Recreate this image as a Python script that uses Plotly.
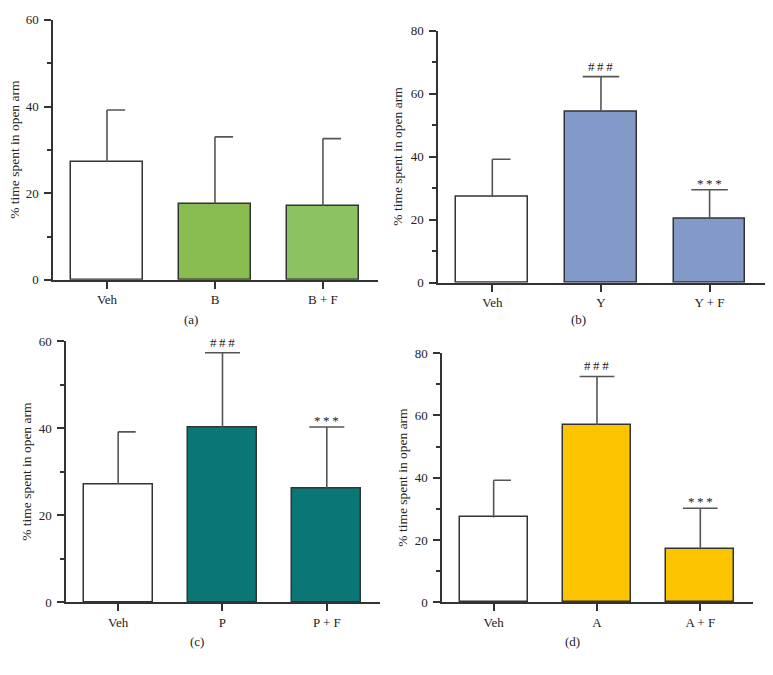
import plotly.graph_objects as go

# ---------------- data ----------------
cats_a = ["Veh", "B", "B + F"]
mean_a = [27.2, 17.6, 17.1]
err_a = [12.0, 15.4, 15.5]
sig_a = ["", "", ""]

cats_b = ["Veh", "Y", "Y + F"]
mean_b = [27.2, 54.4, 20.3]
err_b = [12.0, 11.0, 9.2]
sig_b = ["", "###", "***"]

cats_c = ["Veh", "P", "P + F"]
mean_c = [27.2, 40.2, 26.3]
err_c = [12.0, 17.2, 14.0]
sig_c = ["", "###", "***"]

cats_d = ["Veh", "A", "A + F"]
mean_d = [27.2, 56.9, 17.0]
err_d = [12.0, 15.6, 13.2]
sig_d = ["", "###", "***"]

ymax_list = [60, 80, 60, 80]
panel_labels = ["(a)", "(b)", "(c)", "(d)"]

# ---------------- style ----------------
FONT = "Liberation Serif"
TXT = "#222222"
OUT = "#333333"
colors = [
    ["white", "#88bb50", "#8dc262"],
    ["white", "#8399c8", "#8399c8"],
    ["white", "#0b7676", "#0b7676"],
    ["white", "#fcc400", "#fcc400"],
]

OFF = 8  # page body margin
W, H = 773 - 2 * OFF, 675 - 2 * OFF
boxes = [
    (53, 378, 13, 279),
    (438, 765, 24, 282),
    (66, 380, 342, 609),
    (442, 753, 354, 609),
]
title_x = [15, 398, 27, 403]
lab_pos = [(191, 320), (578, 320), (197, 649), (572, 649)]

panels = [
    (cats_a, mean_a, err_a, sig_a),
    (cats_b, mean_b, err_b, sig_b),
    (cats_c, mean_c, err_c, sig_c),
    (cats_d, mean_d, err_d, sig_d),
]


def fx(px):
    return (px - OFF) / W


def fy(py):
    return 1 - (py - OFF) / H


CAP = 0.168
fig = go.Figure()
annotations = []
layout = {}

for k, (cats, means, errs, sigs) in enumerate(panels):
    n = k + 1
    xa = "x" if n == 1 else f"x{n}"
    ya = "y" if n == 1 else f"y{n}"
    xs = list(range(len(cats)))
    fig.add_trace(go.Bar(
        x=xs, y=means, width=0.66,
        marker=dict(color=colors[k], line=dict(color=OUT, width=1.5)),
        error_y=dict(type="data", symmetric=False, array=errs,
                     arrayminus=[0] * len(errs), width=0,
                     thickness=1.6, color="#555555"),
        xaxis=xa, yaxis=ya, showlegend=False, hoverinfo="skip",
    ))
    cx, cy = [], []
    for i, (m, e, s) in enumerate(zip(means, errs, sigs)):
        left = i - CAP if s else i
        cx += [left, i + CAP, None]
        cy += [m + e, m + e, None]
    fig.add_trace(go.Scatter(
        x=cx, y=cy, mode="lines", line=dict(color="#555555", width=1.6),
        xaxis=xa, yaxis=ya, showlegend=False, hoverinfo="skip",
    ))
    for i, (m, e, s) in enumerate(zip(means, errs, sigs)):
        if s:
            txt = "\u2009".join(list(s))
            annotations.append(dict(
                x=i, y=m + e, xref=xa, yref=ya, text=txt, showarrow=False,
                yanchor="bottom", yshift=1 if s == "###" else -3,
                font=dict(family=FONT, size=13, color=TXT),
            ))

    l, r, t, b = boxes[k]
    ymax = ymax_list[k]
    layout["xaxis" if n == 1 else f"xaxis{n}"] = dict(
        domain=[fx(l), fx(r)], anchor=ya, range=[-0.5, 2.51],
        tickvals=xs, ticktext=cats, ticks="outside", ticklen=7,
        tickwidth=1.5, tickcolor=OUT, showline=True, linecolor=OUT,
        linewidth=1.5, showgrid=False, zeroline=False, fixedrange=True,
        tickfont=dict(family=FONT, size=13, color=TXT),
    )
    layout["yaxis" if n == 1 else f"yaxis{n}"] = dict(
        domain=[fy(b), fy(t)], anchor=xa, range=[0, ymax],
        tickvals=list(range(0, ymax + 1, 20)), ticks="outside", ticklen=7,
        tickwidth=1.5, tickcolor=OUT, showline=True, linecolor=OUT,
        linewidth=1.5, showgrid=False, zeroline=False, ticklabelstandoff=3,
        minor=dict(dtick=10, ticks="outside", ticklen=4, tickwidth=1.5,
                   tickcolor=OUT, showgrid=False),
        tickfont=dict(family=FONT, size=13, color=TXT),
    )
    annotations.append(dict(
        x=fx(title_x[k]), y=fy((t + b) / 2), xref="paper", yref="paper",
        text="% time spent in open arm", textangle=-90, showarrow=False,
        xanchor="center", yanchor="middle",
        font=dict(family=FONT, size=13.5, color=TXT),
    ))
    px_, py_ = lab_pos[k]
    annotations.append(dict(
        x=fx(px_), y=fy(py_), xref="paper", yref="paper",
        text=panel_labels[k], showarrow=False, xanchor="center",
        yanchor="middle", font=dict(family=FONT, size=13, color=TXT),
    ))

fig.update_layout(
    width=W, height=H, margin=dict(l=0, r=0, t=0, b=0),
    paper_bgcolor="white", plot_bgcolor="white",
    annotations=annotations, bargap=0, **layout,
)

fig.write_html("out.html")
